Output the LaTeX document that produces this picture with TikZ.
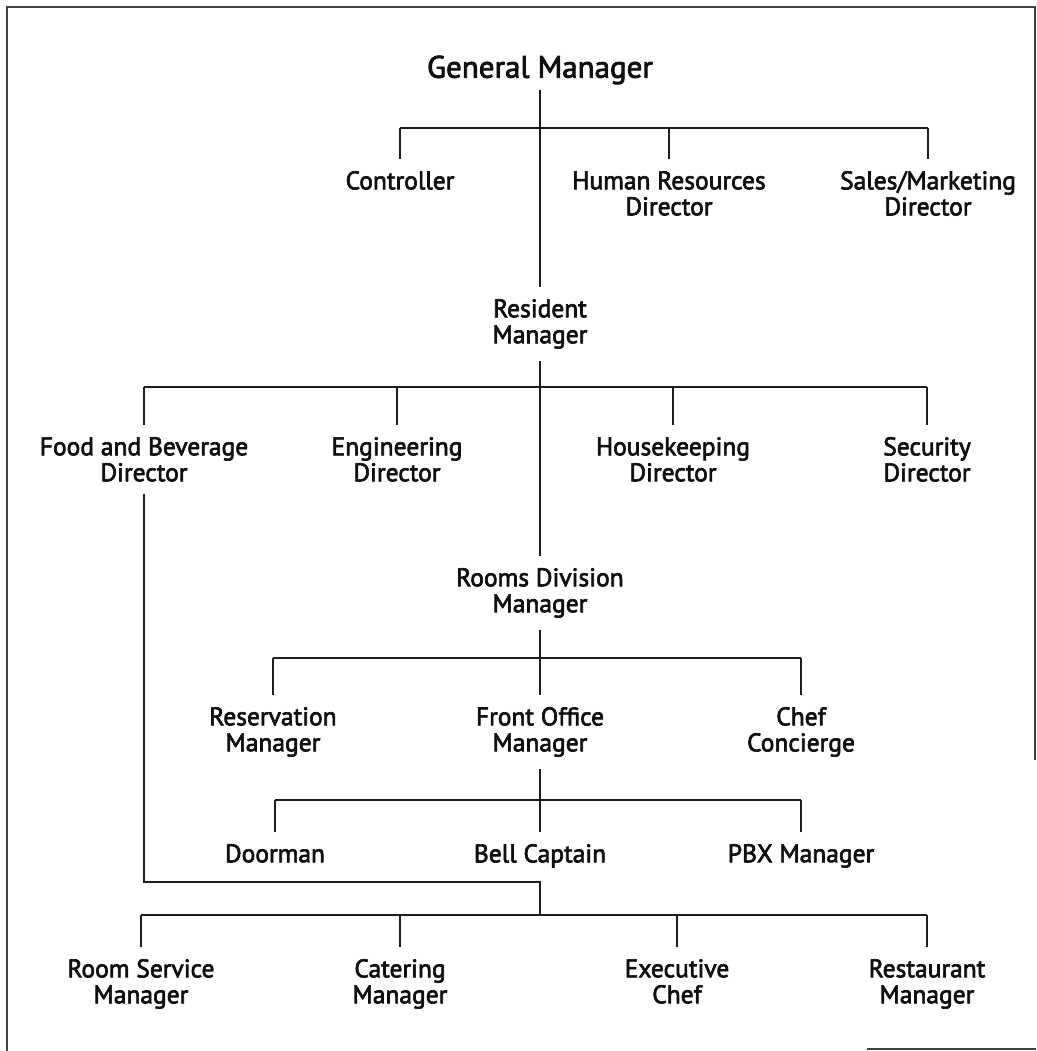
\documentclass[tikz,border=0pt]{standalone}
\usepackage{fontspec}
\setmainfont{PT Sans}[BoldFont=PT Sans, BoldFeatures={FakeBold=2.6}]
\usetikzlibrary{positioning,calc}
\definecolor{orgink}{RGB}{15,15,15}
\definecolor{orgrule}{RGB}{30,30,30}
\tikzset{
  post/.style={
    align=center, anchor=north, inner xsep=2pt, inner ysep=12pt,
    font=\fontsize{25.5}{26}\selectfont\bfseries, text=orgink
  },
  head/.style={post, anchor=center, inner ysep=5pt, font=\fontsize{31}{33}\selectfont\bfseries},
  tie/.style={draw=orgrule, line width=2pt},
  bus/.style={draw=orgrule, line width=2.8pt},
  frame/.style={draw=orgrule!85, line width=2pt}
}
\begin{document}
\begin{tikzpicture}[x=1pt, y=-1pt]
  \useasboundingbox (0,0) rectangle (1036,1051);
  \draw[frame] (1035,760) -- (1035,7) -- (7,7) -- (7,1051);
  \draw[frame] (867,1049) -- (1036,1049);

  \node[head] (gm) at (540,70) {General Manager};
  \node[post] (ctrl) at (400,159) {Controller};
  \node[post] (hr) at (669,159) {Human Resources\\Director};
  \node[post] (sales) at (928,159) {Sales/Marketing\\Director};
  \node[post] (rm) at (540,287) {Resident\\Manager};
  \node[post] (fb) at (144,425) {Food and Beverage\\Director};
  \node[post] (eng) at (397,425) {Engineering\\Director};
  \node[post] (hk) at (673,425) {Housekeeping\\Director};
  \node[post] (sec) at (927,425) {Security\\Director};
  \node[post] (rdm) at (540,556) {Rooms Division\\Manager};
  \node[post] (resv) at (273,695) {Reservation\\Manager};
  \node[post] (fo) at (540,695) {Front Office\\Manager};
  \node[post] (conc) at (801,695) {Chef\\Concierge};
  \node[post] (door) at (275,832) {Doorman};
  \node[post] (bell) at (540,832) {Bell Captain};
  \node[post] (pbx) at (801,832) {PBX Manager};
  \node[post] (rsm) at (141,947) {Room Service\\Manager};
  \node[post] (cat) at (400,947) {Catering\\Manager};
  \node[post] (exec) at (677,947) {Executive\\Chef};
  \node[post] (rest) at (927,947) {Restaurant\\Manager};

  \coordinate (b1) at (0,128);
  \coordinate (b2) at (0,387);
  \coordinate (b3) at (0,658);
  \coordinate (b4) at (0,800);
  \coordinate (b5) at (0,915);
  \coordinate (fbturn) at (540,882);

  \draw[tie] (gm.south) -- (rm.north);
  \draw[tie] (rm.south) -- (rdm.north);
  \draw[tie] (rdm.south) -- (fo.north);
  \draw[tie] (fo.south) -- (bell.north);
  \draw[tie] (fb.south) |- (fbturn) -- (fbturn |- b5);

  \draw[bus] (ctrl.north |- b1) -- (sales.north |- b1);
  \foreach \n in {ctrl,hr,sales} \draw[tie] (\n.north) -- (\n.north |- b1);
  \draw[bus] (fb.north |- b2) -- (sec.north |- b2);
  \foreach \n in {fb,eng,hk,sec} \draw[tie] (\n.north) -- (\n.north |- b2);
  \draw[bus] (resv.north |- b3) -- (conc.north |- b3);
  \foreach \n in {resv,conc} \draw[tie] (\n.north) -- (\n.north |- b3);
  \draw[bus] (door.north |- b4) -- (pbx.north |- b4);
  \foreach \n in {door,pbx} \draw[tie] (\n.north) -- (\n.north |- b4);
  \draw[bus] (rsm.north |- b5) -- (rest.north |- b5);
  \foreach \n in {rsm,cat,exec,rest} \draw[tie] (\n.north) -- (\n.north |- b5);
\end{tikzpicture}
\end{document}
